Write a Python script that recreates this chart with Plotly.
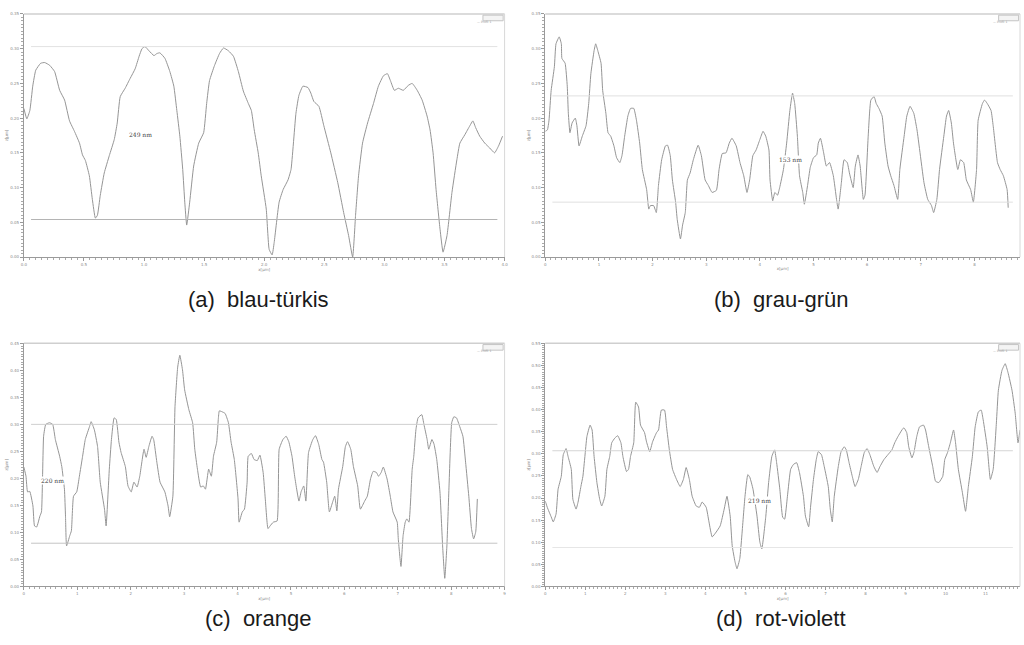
import plotly.graph_objects as go

# ---- profile (a) blau-türkis: position in µm, height in nm ----
xa = [0.00, 0.025, 0.05, 0.074, 0.099, 0.14, 0.174, 0.215, 0.256, 0.298, 0.339, 0.38, 0.421, 0.463, 0.488,
      0.512, 0.545, 0.570, 0.595, 0.612, 0.636, 0.669, 0.711, 0.752, 0.777, 0.802, 0.843, 0.884, 0.926, 0.959,
      0.983, 1.008, 1.041, 1.083, 1.107, 1.132, 1.174, 1.215, 1.248, 1.273, 1.298, 1.322, 1.339, 1.355, 1.380,
      1.413, 1.455, 1.496, 1.521, 1.545, 1.587, 1.628, 1.661, 1.702, 1.744, 1.785, 1.826, 1.868, 1.893, 1.917,
      1.950, 1.975, 2.017, 2.041, 2.066, 2.083, 2.124, 2.157, 2.198, 2.223, 2.264, 2.289, 2.322, 2.364, 2.388,
      2.413, 2.455, 2.496, 2.554, 2.612, 2.661, 2.702, 2.736, 2.760, 2.785, 2.818, 2.860, 2.909, 2.950, 2.992,
      3.025, 3.050, 3.083, 3.116, 3.157, 3.198, 3.231, 3.273, 3.314, 3.355, 3.380, 3.405, 3.430, 3.463, 3.488,
      3.521, 3.562, 3.603, 3.628, 3.669, 3.711, 3.736, 3.760, 3.793, 3.835, 3.876, 3.917, 3.950, 3.983]
ya = [214, 199, 211, 246, 269, 279, 280, 276, 267, 240, 226, 196, 181, 164, 147,
      139, 117, 83, 56, 60, 89, 121, 146, 169, 193, 231, 243, 257, 271, 289,
      300, 303, 297, 290, 293, 294, 286, 267, 246, 211, 174, 126, 79, 46, 79,
      131, 164, 179, 221, 254, 276, 293, 301, 297, 289, 267, 239, 221, 211, 183,
      150, 117, 69, 11, 3, 21, 79, 97, 111, 126, 207, 233, 246, 244, 236,
      224, 217, 189, 150, 107, 64, 31, 0, 60, 117, 164, 193, 221, 246, 261,
      264, 254, 240, 243, 240, 247, 250, 240, 226, 203, 183, 150, 97, 40, 7,
      31, 93, 140, 164, 176, 189, 196, 186, 174, 164, 157, 150, 160, 174]

# ---- profile (b) grau-grün ----
xb = [0.00, 0.04, 0.07, 0.11, 0.17, 0.20, 0.26, 0.30, 0.31, 0.37, 0.41, 0.43, 0.46, 0.50, 0.56, 0.59, 0.63,
      0.69, 0.76, 0.81, 0.85, 0.91, 0.94, 0.98, 1.04, 1.07, 1.13, 1.17, 1.22, 1.28, 1.33, 1.39, 1.43, 1.48,
      1.54, 1.59, 1.65, 1.70, 1.76, 1.81, 1.89, 1.93, 1.96, 2.02, 2.07, 2.11, 2.17, 2.24, 2.28, 2.33, 2.37,
      2.43, 2.46, 2.52, 2.56, 2.61, 2.65, 2.70, 2.76, 2.85, 2.91, 2.98, 3.04, 3.11, 3.19, 3.24, 3.30, 3.37,
      3.43, 3.48, 3.56, 3.63, 3.70, 3.76, 3.81, 3.87, 3.93, 4.00, 4.06, 4.11, 4.17, 4.19, 4.24, 4.28, 4.33,
      4.37, 4.44, 4.50, 4.56, 4.61, 4.65, 4.70, 4.74, 4.80, 4.83, 4.89, 4.94, 5.00, 5.06, 5.09, 5.13, 5.19,
      5.24, 5.30, 5.37, 5.43, 5.46, 5.52, 5.57, 5.63, 5.67, 5.74, 5.78, 5.83, 5.87, 5.93, 5.96, 6.02, 6.07,
      6.13, 6.17, 6.22, 6.28, 6.33, 6.39, 6.44, 6.50, 6.57, 6.61, 6.69, 6.74, 6.80, 6.87, 6.93, 6.98, 7.06,
      7.13, 7.20, 7.24, 7.30, 7.35, 7.43, 7.48, 7.52, 7.57, 7.61, 7.69, 7.74, 7.80, 7.85, 7.93, 7.98, 8.04,
      8.07, 8.15, 8.19, 8.24, 8.31, 8.35, 8.43, 8.48, 8.54, 8.61, 8.63]
yb = [181, 183, 197, 240, 274, 307, 317, 307, 286, 279, 246, 207, 179, 193, 200, 189, 160,
      174, 189, 221, 264, 297, 307, 297, 279, 240, 207, 179, 174, 160, 143, 136, 146, 174,
      203, 214, 214, 197, 164, 126, 97, 69, 74, 74, 64, 103, 140, 160, 161, 146, 111,
      79, 54, 26, 46, 64, 111, 121, 140, 161, 146, 111, 103, 93, 96, 126, 149, 150,
      164, 171, 160, 136, 117, 93, 111, 146, 154, 169, 181, 174, 154, 111, 81, 93, 89,
      100, 126, 164, 211, 236, 221, 174, 117, 93, 76, 103, 129, 143, 147, 164, 171, 150,
      131, 136, 117, 83, 69, 107, 140, 136, 121, 100, 131, 147, 131, 83, 89, 174, 226,
      231, 221, 214, 203, 164, 131, 117, 103, 83, 126, 174, 203, 217, 207, 183, 154, 107,
      83, 74, 64, 83, 126, 174, 203, 211, 193, 164, 126, 140, 136, 111, 97, 79, 126,
      197, 221, 226, 221, 211, 189, 136, 126, 117, 97, 71]

# ---- profile (c) orange ----
xc = [0.00, 0.04, 0.07, 0.11, 0.17, 0.20, 0.24, 0.30, 0.33, 0.37, 0.41, 0.48, 0.54, 0.59, 0.67, 0.71, 0.76,
      0.78, 0.80, 0.86, 0.89, 0.93, 0.99, 1.04, 1.10, 1.15, 1.23, 1.26, 1.32, 1.38, 1.43, 1.51, 1.54, 1.60,
      1.64, 1.69, 1.73, 1.78, 1.82, 1.90, 1.95, 2.01, 2.06, 2.12, 2.17, 2.25, 2.29, 2.34, 2.40, 2.43, 2.49,
      2.55, 2.64, 2.70, 2.73, 2.79, 2.83, 2.88, 2.92, 2.97, 3.01, 3.09, 3.16, 3.20, 3.25, 3.31, 3.36, 3.40,
      3.46, 3.51, 3.55, 3.61, 3.64, 3.66, 3.74, 3.77, 3.83, 3.88, 3.94, 4.01, 4.03, 4.09, 4.13, 4.18, 4.20,
      4.26, 4.31, 4.37, 4.42, 4.48, 4.52, 4.57, 4.61, 4.67, 4.74, 4.78, 4.85, 4.91, 4.96, 5.02, 5.07, 5.15,
      5.19, 5.24, 5.28, 5.33, 5.41, 5.46, 5.52, 5.58, 5.61, 5.67, 5.72, 5.78, 5.82, 5.86, 5.89, 5.97, 6.02,
      6.06, 6.12, 6.17, 6.25, 6.30, 6.38, 6.43, 6.49, 6.54, 6.60, 6.64, 6.69, 6.73, 6.80, 6.86, 6.91, 6.99,
      7.01, 7.06, 7.10, 7.14, 7.17, 7.21, 7.27, 7.30, 7.34, 7.38, 7.45, 7.49, 7.55, 7.58, 7.64, 7.68, 7.73,
      7.79, 7.84, 7.88, 7.92, 7.96, 8.01, 8.05, 8.10, 8.16, 8.22, 8.27, 8.33, 8.38, 8.42, 8.46, 8.49]
yc = [221, 204, 175, 176, 149, 112, 110, 130, 138, 278, 300, 303, 300, 272, 241, 222, 180,
      130, 75, 94, 103, 167, 175, 204, 241, 272, 296, 305, 290, 259, 193, 143, 112, 217,
      272, 312, 309, 267, 248, 222, 186, 175, 193, 184, 204, 254, 239, 259, 278, 272, 230,
      193, 175, 149, 129, 167, 333, 406, 428, 401, 364, 327, 303, 254, 217, 184, 186, 180,
      217, 204, 241, 267, 309, 325, 322, 320, 303, 267, 235, 162, 119, 138, 143, 193, 241,
      246, 235, 233, 243, 211, 162, 107, 112, 119, 121, 254, 272, 278, 268, 241, 204, 158,
      175, 186, 158, 248, 272, 279, 263, 235, 230, 193, 138, 156, 167, 140, 180, 222, 259,
      268, 254, 222, 186, 143, 158, 167, 199, 213, 211, 204, 211, 221, 199, 167, 138, 119,
      88, 37, 94, 119, 125, 119, 217, 241, 290, 312, 318, 300, 272, 254, 272, 263, 235,
      175, 75, 15, 75, 186, 303, 314, 312, 296, 278, 230, 167, 107, 88, 101, 162]

# ---- profile (d) rot-violett ----
xd = [0.00, 0.05, 0.15, 0.20, 0.27, 0.32, 0.40, 0.45, 0.52, 0.57, 0.65, 0.69, 0.77, 0.82, 0.89, 0.94, 0.99,
      1.04, 1.12, 1.17, 1.22, 1.29, 1.36, 1.41, 1.49, 1.54, 1.61, 1.66, 1.74, 1.81, 1.89, 1.94, 2.03, 2.08,
      2.13, 2.21, 2.26, 2.33, 2.38, 2.48, 2.53, 2.61, 2.68, 2.78, 2.83, 2.90, 2.98, 3.03, 3.10, 3.18, 3.28,
      3.37, 3.45, 3.52, 3.60, 3.67, 3.77, 3.85, 3.92, 4.02, 4.09, 4.17, 4.27, 4.37, 4.47, 4.54, 4.62, 4.67,
      4.74, 4.79, 4.86, 4.91, 4.99, 5.06, 5.11, 5.19, 5.29, 5.36, 5.41, 5.51, 5.58, 5.66, 5.73, 5.78, 5.86,
      5.93, 5.98, 6.05, 6.13, 6.20, 6.28, 6.35, 6.45, 6.50, 6.58, 6.63, 6.70, 6.77, 6.82, 6.90, 6.97, 7.07,
      7.12, 7.17, 7.22, 7.32, 7.39, 7.47, 7.52, 7.59, 7.67, 7.74, 7.82, 7.89, 7.97, 8.04, 8.11, 8.21, 8.29,
      8.36, 8.46, 8.56, 8.66, 8.73, 8.81, 8.91, 8.96, 9.03, 9.08, 9.16, 9.21, 9.28, 9.35, 9.45, 9.50, 9.58,
      9.68, 9.75, 9.83, 9.93, 9.98, 10.05, 10.12, 10.20, 10.25, 10.32, 10.42, 10.50, 10.57, 10.67, 10.74,
      10.82, 10.89, 10.94, 11.04, 11.12, 11.19, 11.27, 11.32, 11.41, 11.49, 11.56, 11.66, 11.74, 11.81, 11.86]
yd = [193, 179, 157, 146, 164, 220, 249, 298, 312, 294, 265, 197, 175, 191, 226, 249, 294,
      339, 365, 354, 294, 235, 197, 182, 204, 265, 294, 325, 336, 341, 325, 294, 260, 265,
      294, 325, 417, 406, 365, 348, 327, 305, 327, 348, 354, 399, 399, 361, 309, 265, 242,
      226, 242, 269, 242, 204, 182, 179, 191, 179, 146, 112, 123, 137, 175, 204, 159, 92,
      56, 40, 63, 114, 204, 253, 247, 220, 159, 101, 85, 159, 235, 294, 309, 280, 220,
      157, 152, 204, 265, 276, 280, 258, 204, 159, 135, 182, 242, 287, 305, 298, 271, 226,
      175, 146, 204, 271, 305, 316, 309, 280, 249, 226, 242, 271, 303, 312, 298, 271, 258,
      271, 287, 298, 309, 325, 339, 354, 359, 348, 316, 291, 303, 339, 361, 365, 354, 316,
      271, 238, 235, 249, 287, 303, 325, 354, 325, 265, 213, 170, 226, 294, 361,
      395, 399, 377, 316, 242, 265, 370, 444, 489, 504, 484, 444, 392, 325, 354]

# captions, scan lengths (µm), height ranges (nm) and x tick steps (µm)
captions = ["(a)  blau-türkis", "(b)  grau-grün", "(c)  orange", "(d)  rot-violett"]
x_end = [4.0, 8.85, 9.0, 11.86]
x_step = [0.5, 1, 1, 1]
z_end = [350, 350, 450, 550]
z_step = 50

# lower reference level and peak-to-valley distance (nm) per profile
level_low = [54, 79, 80, 88]
peak_valley = [249, 153, 220, 219]
# where the distance label sits (µm, nm)
label_x = [0.97, 4.57, 0.54, 5.36]
label_z = [177, 140, 197, 195]

profiles = [(xa, ya), (xb, yb), (xc, yc), (xd, yd)]
for px, pz in profiles:
    assert len(px) == len(pz)

# panel placement on the page (paper fractions)
x_dom = [[0.0205, 0.4932], [0.5332, 1.0], [0.0205, 0.4932], [0.5332, 1.0]]
y_dom = [[0.6031, 0.9829], [0.6031, 0.9829], [0.0884, 0.4682], [0.0884, 0.4682]]
cap_xy = [(0.251, 0.536), (0.765, 0.536), (0.251, 0.038), (0.765, 0.038)]
upper_line_col = ["#e2e2e2", "#e0e0e0", "#cfcfcf", "#d6d6d6"]
lower_line_col = ["#b4b4b4", "#e0e0e0", "#c4c4c4", "#e6e6e6"]

fig = go.Figure()
tick_font = dict(family="DejaVu Sans", size=4, color="#8a8a8a")
shapes = []
annotations = []

for i, (px, pz) in enumerate(profiles):
    n = "" if i == 0 else str(i + 1)
    xa_name, ya_name = "x" + n, "y" + n
    fig.add_trace(go.Scatter(
        x=px, y=pz, mode="lines", xaxis=xa_name, yaxis=ya_name,
        line=dict(color="#959595", width=1, shape="spline", smoothing=0.4),
        showlegend=False, hoverinfo="skip"))

    zticks = list(range(0, z_end[i] + 1, z_step))
    nx = int(x_end[i] / x_step[i] + 1e-6)
    xticks = [round(k * x_step[i], 2) for k in range(nx + 1)]
    xfmt = "{:.1f}" if x_step[i] < 1 else "{:.0f}"
    fig.update_layout(**{
        "xaxis" + n: dict(
            domain=x_dom[i], range=[0, x_end[i]], anchor=ya_name,
            tickvals=xticks, ticktext=[xfmt.format(v) for v in xticks],
            ticks="outside", ticklen=3, tickcolor="#999", tickfont=tick_font,
            minor=dict(dtick=x_step[i] / 10, ticks="outside", ticklen=2, tickcolor="#aaa"),
            showline=True, linecolor="#9a9a9a", linewidth=1, showgrid=False, zeroline=False,
            title=dict(text="x[µm]", font=tick_font, standoff=1)),
        "yaxis" + n: dict(
            domain=y_dom[i], range=[0, z_end[i]], anchor=xa_name,
            tickvals=zticks, ticktext=["{:.2f}".format(v / 1000) for v in zticks],
            ticks="outside", ticklen=3, tickcolor="#999", tickfont=tick_font,
            minor=dict(dtick=z_step / 10, ticks="outside", ticklen=2, tickcolor="#aaa"),
            showline=True, linecolor="#9a9a9a", linewidth=1, showgrid=False, zeroline=False,
            title=dict(text="z[µm]", font=tick_font, standoff=1)),
    })

    dom_x = xa_name + " domain"
    dom_y = ya_name + " domain"
    # light frame along the top and right of the plot area
    shapes.append(dict(type="line", xref=dom_x, yref=dom_y, x0=0, x1=1, y0=1, y1=1,
                       line=dict(color="#cfcfcf", width=1.5)))
    shapes.append(dict(type="line", xref=dom_x, yref=dom_y, x0=1, x1=1, y0=0, y1=1,
                       line=dict(color="#d8d8d8", width=1)))
    # peak and valley reference levels
    lo = level_low[i]
    hi = level_low[i] + peak_valley[i]
    shapes.append(dict(type="line", xref=dom_x, yref=ya_name, x0=0.015, x1=0.985, y0=hi, y1=hi,
                       line=dict(color=upper_line_col[i], width=1)))
    shapes.append(dict(type="line", xref=dom_x, yref=ya_name, x0=0.015, x1=0.985, y0=lo, y1=lo,
                       line=dict(color=lower_line_col[i], width=1)))
    # small legend box in the upper right corner
    shapes.append(dict(type="rect", xref=dom_x, yref=dom_y, x0=0.955, x1=0.997, y0=0.972, y1=0.995,
                       line=dict(color="#c4c4c4", width=1), fillcolor="#f4f4f4"))
    annotations.append(dict(xref=dom_x, yref=dom_y, x=0.976, y=0.9835, text="— Profil 1",
                            showarrow=False, font=dict(family="DejaVu Sans", size=3, color="#999")))
    # peak-to-valley distance
    annotations.append(dict(xref=xa_name, yref=ya_name, x=label_x[i], y=label_z[i],
                            text="{} nm".format(peak_valley[i]), showarrow=False,
                            bgcolor="white", borderpad=0,
                            font=dict(family="DejaVu Serif", size=6, color="#444")))
    # sub-figure caption
    annotations.append(dict(xref="paper", yref="paper", x=cap_xy[i][0], y=cap_xy[i][1],
                            text=captions[i], showarrow=False, xanchor="center", yanchor="middle",
                            font=dict(family="Liberation Sans", size=22, color="#1a1a1a")))

fig.update_layout(
    width=1024, height=645,
    margin=dict(l=0, r=0, t=0, b=0),
    paper_bgcolor="white", plot_bgcolor="white",
    shapes=shapes, annotations=annotations,
    showlegend=False,
)

fig.write_html("out.html")
